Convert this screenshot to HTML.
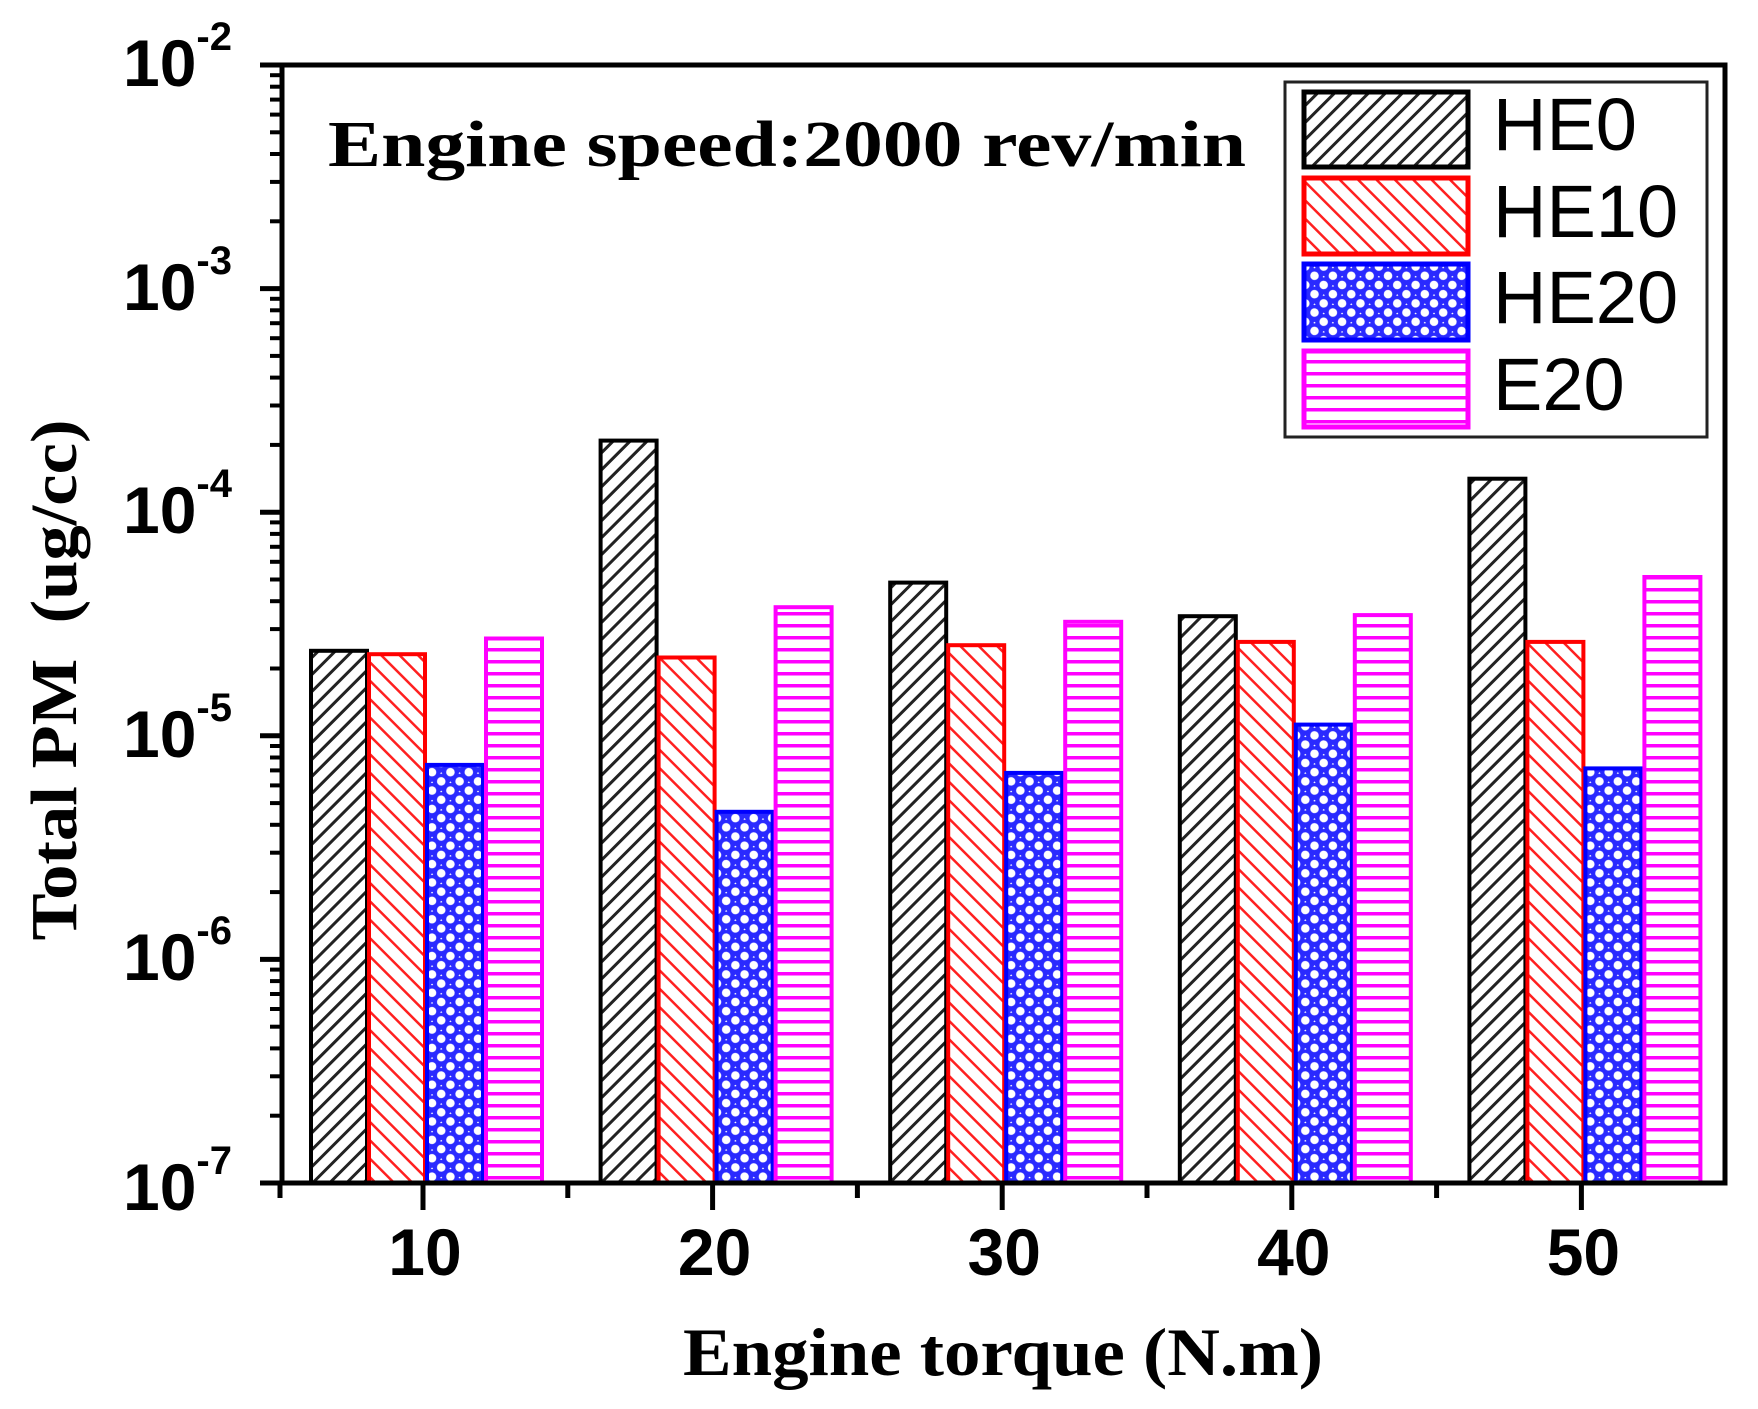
<!DOCTYPE html>
<html><head><meta charset="utf-8"><style>
html,body{margin:0;padding:0;background:#fff;}
svg{display:block;}
</style></head><body>
<svg width="1758" height="1409" viewBox="0 0 1758 1409" xmlns="http://www.w3.org/2000/svg">
<defs>
<pattern id="pB" width="12" height="12" patternUnits="userSpaceOnUse" patternTransform="rotate(45)">
<rect width="12" height="12" fill="#fff"/><rect x="0" y="0" width="3" height="12" fill="#222"/></pattern>
<pattern id="pR" width="13" height="13" patternUnits="userSpaceOnUse" patternTransform="rotate(-45)">
<rect width="13" height="13" fill="#fff"/><rect x="0" y="0" width="2.5" height="13" fill="#ff2020"/></pattern>
<pattern id="pU" width="13" height="13" patternUnits="userSpaceOnUse" patternTransform="rotate(45)">
<rect width="13" height="13" fill="#2a2aff"/><circle cx="6.5" cy="6.5" r="4.3" fill="#fff"/><circle cx="0" cy="0" r="1.6" fill="#fff"/></pattern>
<pattern id="pM" width="12" height="12" patternUnits="userSpaceOnUse">
<rect width="12" height="12" fill="#fff"/><rect x="0" y="0" width="12" height="3.5" fill="#ff00ff"/></pattern>
<g id="minor" stroke="#000" stroke-width="4">
<line x1="270" x2="282" y1="-67.3" y2="-67.3"/><line x1="270" x2="282" y1="-106.7" y2="-106.7"/>
<line x1="270" x2="282" y1="-134.6" y2="-134.6"/><line x1="270" x2="282" y1="-156.3" y2="-156.3"/>
<line x1="270" x2="282" y1="-174" y2="-174"/><line x1="270" x2="282" y1="-189" y2="-189"/>
<line x1="270" x2="282" y1="-201.9" y2="-201.9"/><line x1="270" x2="282" y1="-213.4" y2="-213.4"/>
</g>
</defs>

<g stroke-width="4">
<rect x="311" y="650.8" width="56" height="532" fill="url(#pB)" stroke="#000"/>
<rect x="369" y="654.2" width="56" height="529" fill="url(#pR)" stroke="#ff0000"/>
<rect x="427" y="764.9" width="56" height="418" fill="url(#pU)" stroke="#0000ff"/>
<rect x="486" y="638.5" width="56" height="545" fill="url(#pM)" stroke="#ff00ff"/>

<rect x="600.6" y="440.6" width="56" height="742" fill="url(#pB)" stroke="#000"/>
<rect x="658.6" y="657.5" width="56" height="526" fill="url(#pR)" stroke="#ff0000"/>
<rect x="716.6" y="811.8" width="56" height="371" fill="url(#pU)" stroke="#0000ff"/>
<rect x="775.6" y="607.2" width="56" height="576" fill="url(#pM)" stroke="#ff00ff"/>

<rect x="890.2" y="582.6" width="56" height="600" fill="url(#pB)" stroke="#000"/>
<rect x="948.2" y="645.2" width="56" height="538" fill="url(#pR)" stroke="#ff0000"/>
<rect x="1006.2" y="772.9" width="56" height="410" fill="url(#pU)" stroke="#0000ff"/>
<rect x="1065.2" y="621.8" width="56" height="561" fill="url(#pM)" stroke="#ff00ff"/>

<rect x="1179.8" y="616.2" width="56" height="567" fill="url(#pB)" stroke="#000"/>
<rect x="1237.8" y="641.9" width="56" height="541" fill="url(#pR)" stroke="#ff0000"/>
<rect x="1295.8" y="724.6" width="56" height="458" fill="url(#pU)" stroke="#0000ff"/>
<rect x="1354.8" y="615.1" width="56" height="568" fill="url(#pM)" stroke="#ff00ff"/>

<rect x="1469.4" y="478.7" width="56" height="704" fill="url(#pB)" stroke="#000"/>
<rect x="1527.4" y="641.9" width="56" height="541" fill="url(#pR)" stroke="#ff0000"/>
<rect x="1585.4" y="768.4" width="56" height="415" fill="url(#pU)" stroke="#0000ff"/>
<rect x="1644.4" y="577" width="56" height="606" fill="url(#pM)" stroke="#ff00ff"/>
</g>

<rect x="282" y="65" width="1443" height="1118" fill="none" stroke="#000" stroke-width="5"/>
<g stroke="#000" stroke-width="5">
<line x1="260" x2="282" y1="65" y2="65"/><line x1="260" x2="282" y1="288.6" y2="288.6"/>
<line x1="260" x2="282" y1="512.2" y2="512.2"/><line x1="260" x2="282" y1="735.8" y2="735.8"/>
<line x1="260" x2="282" y1="959.4" y2="959.4"/><line x1="260" x2="282" y1="1183" y2="1183"/>
<line x1="423" x2="423" y1="1183" y2="1210"/><line x1="712.6" x2="712.6" y1="1183" y2="1210"/>
<line x1="1002.2" x2="1002.2" y1="1183" y2="1210"/><line x1="1291.8" x2="1291.8" y1="1183" y2="1210"/>
<line x1="1581.4" x2="1581.4" y1="1183" y2="1210"/>
<line x1="280" x2="280" y1="1183" y2="1198"/><line x1="567.8" x2="567.8" y1="1183" y2="1198"/>
<line x1="857.4" x2="857.4" y1="1183" y2="1198"/><line x1="1147" x2="1147" y1="1183" y2="1198"/>
<line x1="1436.6" x2="1436.6" y1="1183" y2="1198"/>
</g>
<use href="#minor" transform="translate(0,1183)"/>
<use href="#minor" transform="translate(0,959.4)"/>
<use href="#minor" transform="translate(0,735.8)"/>
<use href="#minor" transform="translate(0,512.2)"/>
<use href="#minor" transform="translate(0,288.6)"/>

<g font-family="Liberation Sans, Arial, sans-serif" font-weight="bold" fill="#000">
<text x="123" y="86" font-size="66">10<tspan font-size="40" dy="-36">-2</tspan></text>
<text x="123" y="310" font-size="66">10<tspan font-size="40" dy="-36">-3</tspan></text>
<text x="123" y="533" font-size="66">10<tspan font-size="40" dy="-36">-4</tspan></text>
<text x="123" y="757" font-size="66">10<tspan font-size="40" dy="-36">-5</tspan></text>
<text x="123" y="980" font-size="66">10<tspan font-size="40" dy="-36">-6</tspan></text>
<text x="123" y="1210" font-size="66">10<tspan font-size="40" dy="-36">-7</tspan></text>
<g font-size="66" text-anchor="middle">
<text x="425" y="1275">10</text><text x="714.6" y="1275">20</text><text x="1004.2" y="1275">30</text>
<text x="1293.8" y="1275">40</text><text x="1583.4" y="1275">50</text>
</g>
</g>

<g font-family="Liberation Serif, Times New Roman, serif" font-weight="bold" fill="#000">
<text x="328" y="166" font-size="66" textLength="918" lengthAdjust="spacingAndGlyphs">Engine speed:2000 rev/min</text>
<text x="1003" y="1375" font-size="68" text-anchor="middle" textLength="640" lengthAdjust="spacingAndGlyphs">Engine torque (N.m)</text>
<text transform="translate(76,680) rotate(-90)" font-size="66" text-anchor="middle" textLength="521" lengthAdjust="spacingAndGlyphs" xml:space="preserve">Total PM  (ug/cc)</text>
</g>

<rect x="1285" y="82" width="422" height="355" fill="#fff" stroke="#222" stroke-width="3"/>
<g stroke-width="5">
<rect x="1304" y="92" width="164" height="75" fill="url(#pB)" stroke="#000"/>
<rect x="1304" y="178" width="164" height="76" fill="url(#pR)" stroke="#ff0000"/>
<rect x="1304" y="264" width="164" height="76" fill="url(#pU)" stroke="#0000ff"/>
<rect x="1304" y="351" width="164" height="76" fill="url(#pM)" stroke="#ff00ff"/>
</g>
<g font-family="Liberation Sans, Arial, sans-serif" font-size="74" fill="#000">
<text x="1493" y="150">HE0</text>
<text x="1493" y="237">HE10</text>
<text x="1493" y="323">HE20</text>
<text x="1493" y="410">E20</text>
</g>
</svg>
</body></html>
